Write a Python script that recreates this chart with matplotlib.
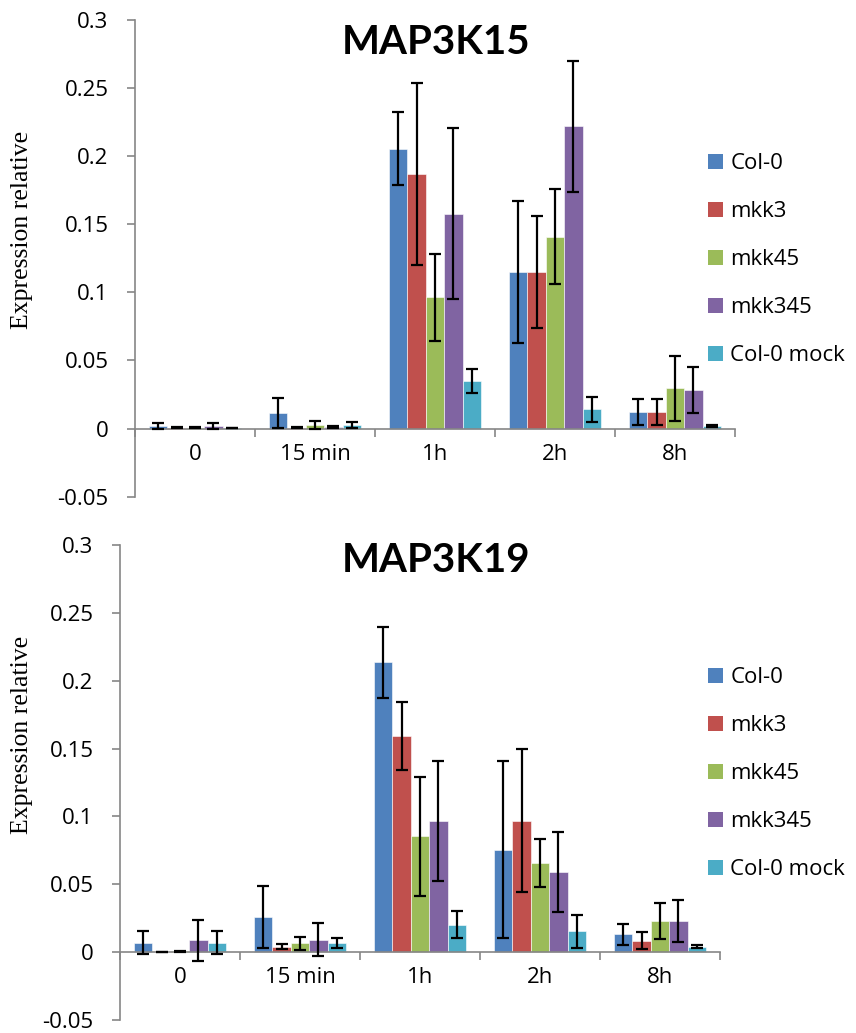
import matplotlib
matplotlib.use("Agg")
import matplotlib.pyplot as plt
import numpy as np
from matplotlib.patches import Patch

plt.rcParams['font.family'] = ['Open Sans', 'DejaVu Sans']

categories = ["0", "15 min", "1h", "2h", "8h"]
series = ["Col-0", "mkk3", "mkk45", "mkk345", "Col-0 mock"]
colors = ["#4F81BD", "#C0504D", "#9BBB59", "#8064A2", "#4BACC6"]

# MAP3K15 values (rows = series, cols = categories)
k15_col0 = [0.0017, 0.0117, 0.2056, 0.1152, 0.0124]
k15_mkk3 = [0.0008, 0.0008, 0.1869, 0.1152, 0.0124]
k15_mkk45 = [0.0008, 0.0025, 0.0964, 0.1410, 0.0295]
k15_mkk345 = [0.0017, 0.0012, 0.1578, 0.2220, 0.0285]
k15_mock = [0.0002, 0.0027, 0.0349, 0.0142, 0.0020]
k15_err_col0 = [0.0023, 0.0110, 0.0270, 0.0520, 0.0095]
k15_err_mkk3 = [0.0005, 0.0005, 0.0670, 0.0410, 0.0095]
k15_err_mkk45 = [0.0005, 0.0028, 0.0320, 0.0350, 0.0240]
k15_err_mkk345 = [0.0023, 0.0008, 0.0630, 0.0480, 0.0170]
k15_err_mock = [0.0000, 0.0023, 0.0090, 0.0090, 0.0008]

# MAP3K19 values
k19_col0 = [0.0071, 0.0260, 0.2135, 0.0755, 0.0132]
k19_mkk3 = [0.0003, 0.0039, 0.1590, 0.0970, 0.0085]
k19_mkk45 = [0.0007, 0.0064, 0.0853, 0.0657, 0.0228]
k19_mkk345 = [0.0088, 0.0093, 0.0965, 0.0593, 0.0228]
k19_mock = [0.0071, 0.0064, 0.0203, 0.0154, 0.0041]
k19_err_col0 = [0.0085, 0.0230, 0.0260, 0.0650, 0.0077]
k19_err_mkk3 = [0.0000, 0.0018, 0.0250, 0.0530, 0.0061]
k19_err_mkk45 = [0.0005, 0.0045, 0.0440, 0.0180, 0.0134]
k19_err_mkk345 = [0.0150, 0.0120, 0.0440, 0.0295, 0.0155]
k19_err_mock = [0.0086, 0.0037, 0.0100, 0.0122, 0.0014]

yticks = [-0.05, 0, 0.05, 0.1, 0.15, 0.2, 0.25, 0.3]
ytick_labels = ["-0.05", "0", "0.05", "0.1", "0.15", "0.2", "0.25", "0.3"]

W, H = 856, 1033
fig = plt.figure(figsize=(W / 100, H / 100), dpi=100)
gray = "#868686"


def panel(rect, title, vals, errs, title_y, ylabel_y, legend_top):
    ax = fig.add_axes(rect)
    x = np.arange(len(categories))
    w = 0.153
    for i, (name, v, e, c) in enumerate(zip(series, vals, errs, colors)):
        ax.bar(x + (i - 2) * w, v, width=w, color=c, edgecolor="white",
               linewidth=0.4, label=name, zorder=2)
        ax.errorbar(x + (i - 2) * w, v, yerr=e, fmt="none", ecolor="black",
                    elinewidth=1.6, capsize=4.5, capthick=1.6, zorder=3)
    ax.set_xlim(-0.5, len(categories) - 0.5)
    ax.set_ylim(-0.05, 0.3)
    for s in ["top", "right"]:
        ax.spines[s].set_visible(False)
    ax.spines["bottom"].set_position(("data", 0))
    for s in ["left", "bottom"]:
        ax.spines[s].set_color(gray)
        ax.spines[s].set_linewidth(1.2)
    ax.set_yticks(yticks)
    ax.set_yticklabels(ytick_labels)
    ax.tick_params(axis="y", direction="out", length=6, width=1.2, color=gray,
                   labelsize=16, pad=13)
    ax.set_xticks(x)
    ax.set_xticklabels(categories)
    ax.set_xticks(np.arange(-0.5, len(categories), 1.0), minor=True)
    ax.tick_params(axis="x", which="major", length=0, labelsize=16, pad=11)
    ax.tick_params(axis="x", which="minor", direction="out", length=6,
                   width=1.2, color=gray)
    fig.text(436 / W, 1 - title_y / H, title, ha="center", va="center",
             fontsize=29, fontweight="bold", family=["Lato", "DejaVu Sans"])
    fig.text(22 / W, 1 - ylabel_y / H, "Expression relative", rotation=90,
             ha="center", va="center", fontsize=18.5, family="Liberation Serif")
    handles = [Patch(facecolor=c, edgecolor="none") for c in colors]
    fig.legend(handles, series, loc="upper left",
               bbox_to_anchor=(708 / W, 1 - legend_top / H),
               frameon=False, fontsize=16, handlelength=0.68,
               handleheight=0.68, handletextpad=0.33, labelspacing=1.22,
               borderpad=0, borderaxespad=0)
    return ax


panel([135 / W, 1 - 496.7 / H, 600 / W, 476.7 / H], "MAP3K15",
      [k15_col0, k15_mkk3, k15_mkk45, k15_mkk345, k15_mock],
      [k15_err_col0, k15_err_mkk3, k15_err_mkk45, k15_err_mkk345, k15_err_mock],
      43, 230, 153)
panel([120 / W, 1 - 1020 / H, 600 / W, 475 / H], "MAP3K19",
      [k19_col0, k19_mkk3, k19_mkk45, k19_mkk345, k19_mock],
      [k19_err_col0, k19_err_mkk3, k19_err_mkk45, k19_err_mkk345, k19_err_mock],
      560, 735, 667)

fig.savefig("out.png", dpi=100)
